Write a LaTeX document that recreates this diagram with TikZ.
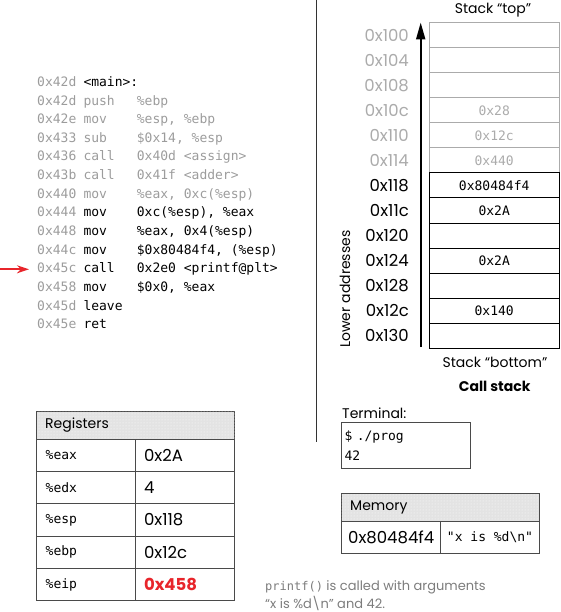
\documentclass[tikz,border=0pt]{standalone}
\usepackage{fontspec}
\setmainfont{Poppins}
\setmonofont{DejaVu Sans Mono}
\usetikzlibrary{arrows.meta,patterns}

\definecolor{codegray}{HTML}{9C9C9C}
\definecolor{linegray}{HTML}{ABABAB}
\definecolor{tblline}{HTML}{4A4A4A}
\definecolor{hdrgray}{HTML}{E3E3E3}
\definecolor{eipred}{HTML}{E8252B}
\definecolor{notegray}{HTML}{7C7C7C}

\newcommand{\codefont}{\ttfamily\fontsize{13}{20}\selectfont}
\newcommand{\labfont}{\fontsize{14}{18}\selectfont}
\newcommand{\numfont}{\fontsize{16.5}{18}\selectfont}

\begin{document}
\begin{tikzpicture}[x=1pt, y=-1pt,
  code/.style={anchor=base west, inner sep=0pt, font=\codefont},
  addr/.style={anchor=east, inner sep=0pt, font=\numfont},
  cell/.style={draw, line width=1pt, minimum width=130, minimum height=25,
    inner sep=0pt, font=\codefont},
  hdr/.style={draw=tblline, line width=1pt, fill=hdrgray,
    postaction={pattern=dots, pattern color=white},
    minimum height=28, align=left, font=\labfont},
  tcell/.style={draw=tblline, line width=1pt, align=left},
  ptr/.style={draw=eipred, line width=1.8pt, -{Stealth[length=12pt,width=8pt]}},
  stkarrow/.style={line width=2pt, -{Triangle[length=17pt,width=9pt]}},
  divline/.style={line width=1.5pt, draw=black!80}]
  \useasboundingbox (0,0) rectangle (560,612);

  % code listing
  \foreach \ad/\op/\arg/\c [count=\i from 0] in {
    0x42d/{<main>:}//black,
    0x42d/push/\%ebp/codegray,
    0x42e/mov/{\%esp, \%ebp}/codegray,
    0x433/sub/{\$0x14, \%esp}/codegray,
    0x436/call/{0x40d <assign>}/codegray,
    0x43b/call/{0x41f <adder>}/codegray,
    0x440/mov/{\%eax, 0xc(\%esp)}/codegray,
    0x444/mov/{0xc(\%esp), \%eax}/black,
    0x448/mov/{\%eax, 0x4(\%esp)}/black,
    0x44c/mov/{\$0x80484f4, (\%esp)}/black,
    0x45c/call/{0x2e0 <printf@plt>}/black,
    0x458/mov/{\$0x0, \%eax}/black,
    0x45d/leave//black,
    0x45e/ret//black}
  {
    \node[code, text=codegray] (ad\i) at (37, {86.4+18.64*\i}) {\ad};
    \node[code, text=\c] (op\i) at (83.3, {86.4+18.64*\i}) {\op};
    \node[code, text=\c] (arg\i) at (136.7, {86.4+18.64*\i}) {\arg};
  }
  \coordinate (ptrtail) at (0, 269.3);
  \coordinate (ptrhead) at (29, 269.3);
  \draw[ptr] (ptrtail) -- (ptrhead);

  % divider
  \coordinate (divtop) at (316.7, 0);
  \coordinate (divbot) at (316.7, 442);
  \draw[divline] (divtop) -- (divbot);

  % call stack
  \foreach \ad/\v/\c [count=\i from 0] in {
    0x100//linegray, 0x104//linegray, 0x108//linegray,
    0x10c/0x28/linegray, 0x110/0x12c/linegray, 0x114/0x440/linegray,
    0x118/0x80484f4/black, 0x11c/0x2A/black, 0x120//black,
    0x124/0x2A/black, 0x128//black, 0x12c/0x140/black, 0x130//black}
  {
    \node[cell, draw=\c, text=\c] (s\i) at (494.2, {35.5+25*\i}) {\v};
    \node[addr, text=\c] (a\i) at (409, {35.5+25*\i}) {\ad};
  }
  \coordinate (stkbot) at (420.7, 347);
  \draw[stkarrow] (stkbot) -- (stkbot |- s0.north);
  \node[rotate=90, font=\labfont] (lowaddr) at (345, 289) {Lower addresses};
  \node[font=\labfont] (stktoplab) at (493, 10) {Stack “top”};
  \node[font=\labfont] (stkbotlab) at (495, 362.7) {Stack “bottom”};
  \node[font=\labfont\bfseries] (calllab) at (494.7, 386.7) {Call stack};

  % registers
  \node[hdr, text width=180.6, inner xsep=8.5] (reghdr) at (135.5, 425.5) {Registers};
  \foreach \r/\v [count=\i from 0] in {
    \%eax/0x2A, \%edx/4, \%esp/0x118, \%ebp/0x12c,
    \%eip/{\textcolor{eipred}{\bfseries 0x458}}}
  {
    \node[tcell, font=\codefont, minimum height=32.3, text width=81,
      inner xsep=9] (rn\i) at (86.2, {455.5+32.3*\i}) {\r};
    \node[tcell, font=\numfont, minimum height=32.3, text width=82,
      inner xsep=8.3] (rv\i) at (185, {455.5+32.3*\i}) {\v};
  }

  % terminal
  \node[font=\labfont, anchor=west, inner sep=0pt] (termlab) at (342, 413) {Terminal:};
  \node[tcell, font=\codefont, minimum height=45.6, text width=123.3,
    inner xsep=3] (term) at (406.3, 445.5) {\$ ./prog\\42};

  % memory
  \node[hdr, text width=180.6, inner xsep=8.5] (memhdr) at (440.5, 507.5) {Memory};
  \node[tcell, font=\numfont, minimum width=99, minimum height=31.6,
    inner sep=0pt] (memad) at (391.2, 537.5) {0x80484f4};
  \node[tcell, font=\codefont, minimum width=98.6, minimum height=31.6,
    inner sep=0pt] (memval) at (490, 537.5) {"x is \%d\textbackslash n"};

  % note
  \node[anchor=west, align=left, inner sep=0pt, text=notegray,
    font=\fontsize{13}{18}\selectfont] (note) at (265, 595.5)
    {{\ttfamily\fontsize{12}{18}\selectfont printf()} is called with arguments\\
     “x is \%d\textbackslash n” and 42.};
\end{tikzpicture}
\end{document}
